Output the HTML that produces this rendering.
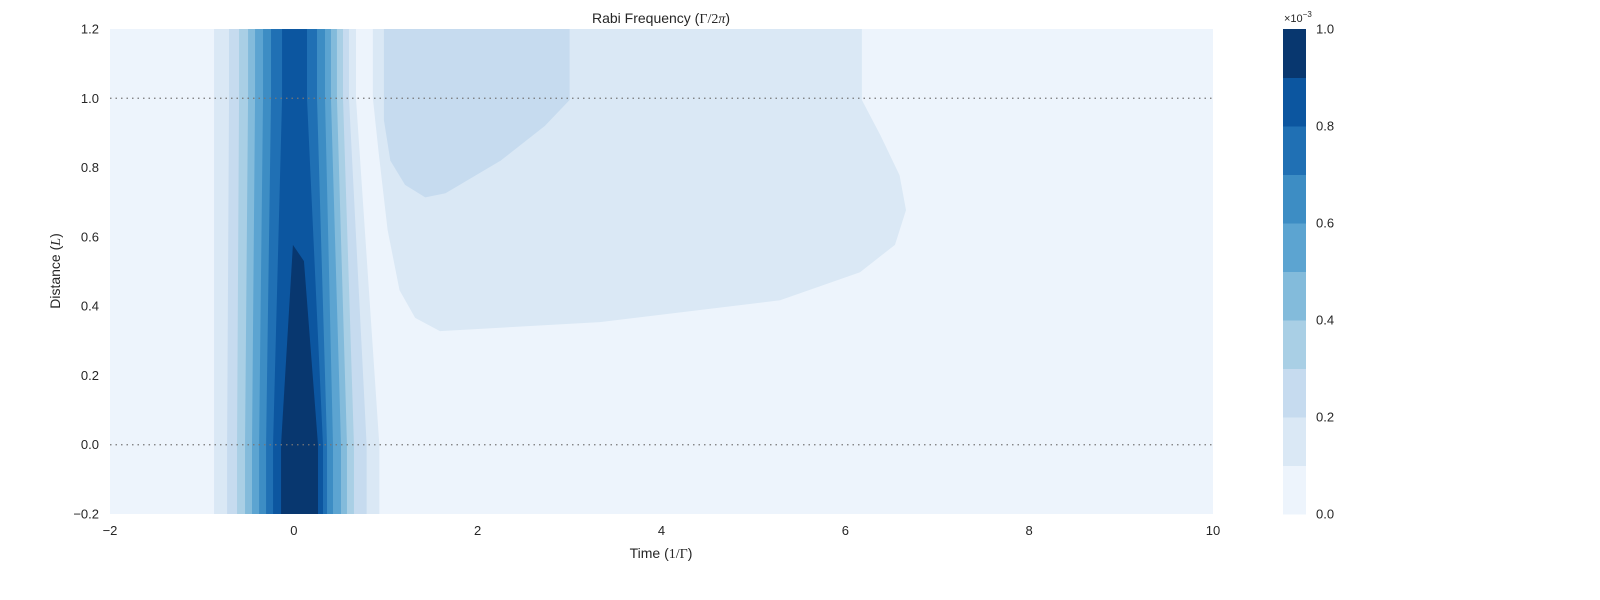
<!DOCTYPE html>
<html><head><meta charset="utf-8"><style>
html,body{margin:0;padding:0;background:#fff;overflow:hidden;width:1600px;height:600px;}
svg{display:block;}
svg text{font-family:"Liberation Sans",sans-serif;fill:#262626;}
</style></head><body>
<svg id="chart" width="1600" height="600" viewBox="0 0 1600 600" xmlns="http://www.w3.org/2000/svg">
<defs><clipPath id="plotclip"><rect x="110" y="29" width="1103" height="485"/></clipPath></defs>
<g id="plot" clip-path="url(#plotclip)"></g>
<g id="overlay"></g>
<text x="661" y="23" text-anchor="middle" font-size="14">Rabi Frequency (<tspan font-family="Liberation Serif">Γ/2<tspan font-style="italic">π</tspan></tspan>)</text>
<text x="661" y="558" text-anchor="middle" font-size="14">Time (<tspan font-family="Liberation Serif">1/Γ</tspan>)</text>
<text transform="translate(60,271) rotate(-90)" text-anchor="middle" font-size="14">Distance (<tspan font-family="Liberation Serif" font-style="italic">L</tspan>)</text>
<text x="1284" y="22" font-size="11">×10<tspan dy="-5" font-size="8">−3</tspan></text>
</svg>
<script>
// Contour data (data coords)
const levels = [0,0.1,0.2,0.3,0.4,0.5,0.6,0.7,0.8,0.9,1.0];
const bandColors = ["#edf4fc","#dae8f5","#c6dbef","#a9cfe5","#83bbdb","#5ca4d1","#3d8dc4","#2070b4","#0c56a0","#08376f"];
// pulse band boundaries for levels 1..8
const leftTop = [-0.868,-0.705,-0.596,-0.498,-0.422,-0.335,-0.248,-0.128];
const leftZero = [-0.868,-0.726,-0.618,-0.531,-0.455,-0.378,-0.302,-0.226];
const rightTop = [0.676,0.600,0.535,0.469,0.404,0.339,0.252,0.143];
const rightZero = [0.93,0.792,0.654,0.578,0.513,0.426,0.361,0.317];
// peak region (level 9)
const peakX = [-0.139,-0.01,0.11,0.263,0.263,-0.139];
const peakY = [0,0.577,0.53,0,-0.2,-0.2];
// tail blob level 1
const blob1X = [0.86,0.86,0.92,1.02,1.15,1.32,1.59,3.33,5.29,6.16,6.54,6.66,6.59,6.38,6.18,6.18];
const blob1Y = [1.2,1.0,0.85,0.62,0.446,0.366,0.328,0.354,0.417,0.498,0.577,0.677,0.778,0.894,0.995,1.2];
// tail blob level 2
const blob2X = [0.98,0.98,1.05,1.21,1.43,1.65,2.25,2.73,3.0,3.0];
const blob2Y = [1.2,0.937,0.82,0.75,0.714,0.726,0.82,0.92,0.995,1.2];
const xTicks = [-2,0,2,4,6,8,10];
const yTicks = [-0.2,0.0,0.2,0.4,0.6,0.8,1.0,1.2];
const cbTicks = [0.0,0.2,0.4,0.6,0.8,1.0];
const refLines = [0,1];

const X0=110,X1=1213,Y0=514,Y1=29;
const sx=v=>X0+(v+2)/12*(X1-X0);
const sy=v=>Y0-(v+0.2)/1.4*(Y0-Y1);
const NS="http://www.w3.org/2000/svg";
const plot=document.getElementById('plot'),ov=document.getElementById('overlay');
function mk(tag,attrs,parent){const e=document.createElementNS(NS,tag);for(const k in attrs)e.setAttribute(k,attrs[k]);parent.appendChild(e);return e;}
function poly(xs,ys,fill,name){
  const p=mk('polygon',{points:xs.map((x,i)=>sx(x)+','+sy(ys[i])).join(' '),fill:fill},plot);
  
  
}
const bg=mk('rect',{x:X0,y:Y1,width:X1-X0,height:Y0-Y1,fill:bandColors[0]},plot);


for(let k=0;k<leftTop.length;k++){
  const xs=[leftTop[k],leftTop[k],leftZero[k],leftZero[k],rightZero[k],rightZero[k],rightTop[k],rightTop[k]];
  const ys=[1.2,1.0,0,-0.2,-0.2,0,1.0,1.2];
  poly(xs,ys,bandColors[k+1],'pulse-band-'+(k+1));
}
poly(peakX,peakY,bandColors[9],'pulse-peak-band');
poly(blob1X,blob1Y,bandColors[1],'tail-band-1');
poly(blob2X,blob2Y,bandColors[2],'tail-band-2');
refLines.forEach(v=>{
  const l=mk('line',{x1:X0,x2:X1,y1:sy(v),y2:sy(v),stroke:'#777','stroke-width':1.2,'stroke-dasharray':'1.5,4'},ov);
  
  
});
xTicks.forEach(v=>{
  const t=mk('text',{x:sx(v),y:535,'text-anchor':'middle','font-size':13},ov);t.textContent=v<0?'\u2212'+(-v):v;
  
  
});
yTicks.forEach(v=>{
  const t=mk('text',{x:99,y:sy(v)+4.5,'text-anchor':'end','font-size':13},ov);t.textContent=(v<0?'\u2212':'')+Math.abs(v).toFixed(1);
  
  
});
// colorbar
const CX=1283,CW=23;
const cy=v=>Y0-v/1.0*(Y0-Y1);
for(let k=0;k<10;k++){
  const r=mk('rect',{x:CX,y:cy(levels[k+1]),width:CW,height:cy(levels[k])-cy(levels[k+1])+0.5,fill:bandColors[k]},ov);
  
  
}
cbTicks.forEach(v=>{
  const t=mk('text',{x:1316,y:cy(v)+4.5,'font-size':13},ov);t.textContent=v.toFixed(1);
  
  
});
</script>
</body></html>
